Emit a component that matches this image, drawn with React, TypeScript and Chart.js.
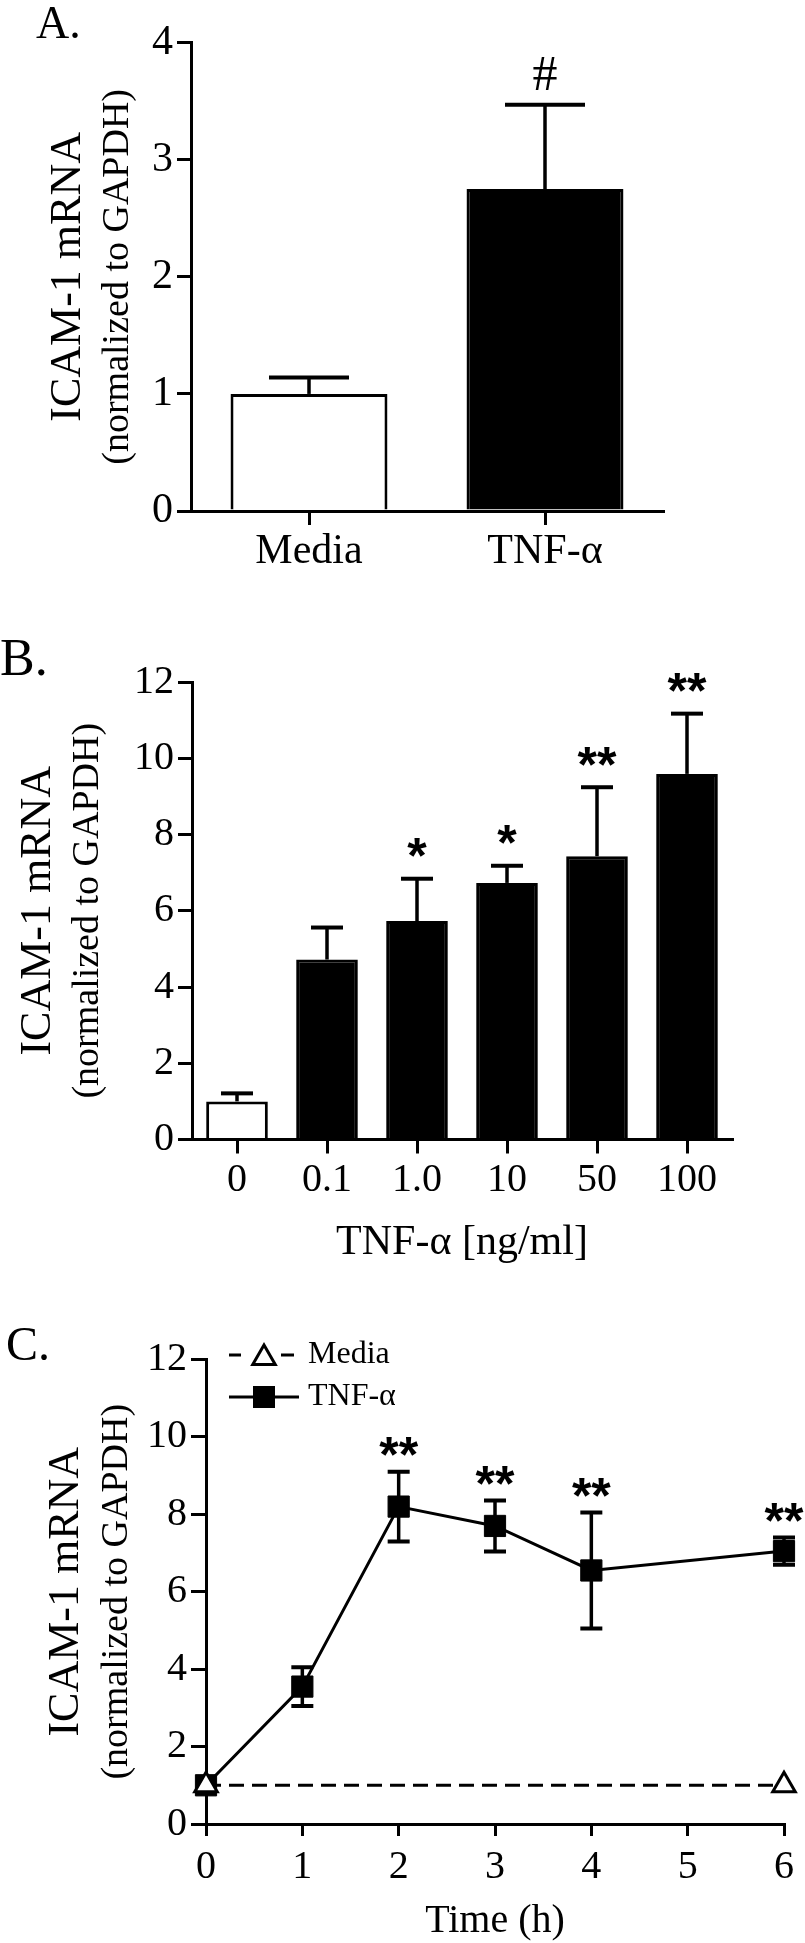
import React, { useEffect, useRef } from 'react';
import { Chart, registerables } from 'chart.js';

Chart.register(...registerables);

// ---------------- data ----------------
const aCategories = ['Media', 'TNF-α'];
const aValues = [1.0, 2.75];
const aErrors = [0.14, 0.72];
const aMarks = ['', '#'];
const aYTicks = [0, 1, 2, 3, 4];

const bCategories = ['0', '0.1', '1.0', '10', '50', '100'];
const bValues = [1.0, 4.72, 5.73, 6.73, 7.43, 9.59];
const bErrors = [0.21, 0.84, 1.11, 0.45, 1.81, 1.58];
const bMarks = ['', '', '*', '*', '**', '**'];
const bYTicks = [0, 2, 4, 6, 8, 10, 12];

const cTimes = [0, 1, 2, 3, 4, 6];
const cTnfValues = [1.0, 3.55, 8.2, 7.7, 6.55, 7.05];
const cTnfErrors = [0, 0.5, 0.9, 0.66, 1.5, 0.35];
const cMarks = ['', '', '**', '**', '**', '**'];
const cMediaTimes = [0, 6];
const cMediaValues = [1.0, 1.0];
const cXTicks = [0, 1, 2, 3, 4, 5, 6];
const cYTicks = [0, 2, 4, 6, 8, 10, 12];

const yTitleLines = ['ICAM-1 mRNA', '(normalized to GAPDH)'];
const bXTitle = 'TNF-α [ng/ml]';
const cXTitle = 'Time (h)';
const cLegendLabels = ['Media', 'TNF-α'];

// ---------------- styling helpers ----------------
const SERIF = "'Liberation Serif', 'Times New Roman', serif";
const SANS = "'Liberation Sans', Arial, sans-serif";

function axisStyle(tickLength: number, padding: number, size = 40) {
  return {
    border: { display: true, color: '#000', width: 3 },
    grid: {
      display: true,
      drawOnChartArea: false,
      drawTicks: true,
      tickLength,
      color: '#000',
      lineWidth: 3,
      offset: false,
    },
    ticks: {
      color: '#000',
      font: { family: SERIF, size },
      padding,
      maxRotation: 0,
      autoSkip: false,
    },
  };
}

function textPlugin(cfg: any) {
  return {
    id: 'panelText',
    afterDraw(chart: any) {
      const { ctx, chartArea } = chart;
      ctx.save();
      ctx.fillStyle = '#000';
      ctx.textBaseline = 'alphabetic';
      ctx.textAlign = 'left';
      ctx.font = `${cfg.labelSize}px ${SERIF}`;
      ctx.fillText(cfg.label, cfg.labelX, cfg.labelY);
      const cy = (chartArea.top + chartArea.bottom) / 2;
      yTitleLines.forEach((line: string, i: number) => {
        ctx.save();
        ctx.translate(cfg.yX[i], cy);
        ctx.rotate(-Math.PI / 2);
        ctx.textAlign = 'center';
        ctx.font = `${cfg.ySizes[i]}px ${SERIF}`;
        ctx.fillText(line, 0, 0);
        ctx.restore();
      });
      if (cfg.xTitle) {
        ctx.textAlign = 'center';
        ctx.font = `${cfg.xTitleSize}px ${SERIF}`;
        ctx.fillText(cfg.xTitle, (chartArea.left + chartArea.right) / 2, cfg.xTitleY);
      }
      ctx.restore();
    },
  };
}

function errorBarPlugin(o: any) {
  const draw = (chart: any) => {
    const { ctx } = chart;
    const meta = chart.getDatasetMeta(o.dataset);
    const ys = chart.scales.y;
    ctx.save();
    ctx.strokeStyle = '#000';
    meta.data.forEach((el: any, i: number) => {
      const e = o.errors[i];
      if (!e) return;
      const x = el.x;
      const yHi = ys.getPixelForValue(o.values[i] + e);
      const yLo = ys.getPixelForValue(o.both ? o.values[i] - e : o.values[i]);
      ctx.lineWidth = 3.5;
      ctx.beginPath();
      ctx.moveTo(x, yLo);
      ctx.lineTo(x, yHi);
      ctx.stroke();
      ctx.lineWidth = 4;
      ctx.beginPath();
      ctx.moveTo(x - o.capHalf, yHi);
      ctx.lineTo(x + o.capHalf, yHi);
      if (o.both) {
        ctx.moveTo(x - o.capHalf, yLo);
        ctx.lineTo(x + o.capHalf, yLo);
      }
      ctx.stroke();
    });
    ctx.restore();
  };
  return o.before
    ? { id: 'errorBars', beforeDatasetsDraw: draw }
    : { id: 'errorBars', afterDatasetsDraw: draw };
}

function marksPlugin(o: any) {
  return {
    id: 'sigMarks',
    afterDatasetsDraw(chart: any) {
      const { ctx } = chart;
      const meta = chart.getDatasetMeta(o.dataset);
      const ys = chart.scales.y;
      ctx.save();
      ctx.fillStyle = '#000';
      ctx.textAlign = 'center';
      ctx.textBaseline = 'alphabetic';
      ctx.font = o.font;
      meta.data.forEach((el: any, i: number) => {
        const t = o.marks[i];
        if (!t) return;
        const top = ys.getPixelForValue(o.values[i] + o.errors[i]);
        const m = ctx.measureText(t);
        const center = top - o.offset;
        const base = center + (m.actualBoundingBoxAscent - m.actualBoundingBoxDescent) / 2;
        ctx.fillText(t, el.x, base);
      });
      ctx.restore();
    },
  };
}

function drawTriangle(ctx: any, x: number, y: number, r: number) {
  ctx.beginPath();
  for (let k = 0; k < 3; k++) {
    const a = (k * 2 * Math.PI) / 3;
    const px = x + Math.sin(a) * r;
    const py = y - Math.cos(a) * r;
    if (k === 0) ctx.moveTo(px, py);
    else ctx.lineTo(px, py);
  }
  ctx.closePath();
  ctx.fillStyle = '#fff';
  ctx.fill();
  ctx.lineWidth = 3;
  ctx.strokeStyle = '#000';
  ctx.stroke();
}

const legendPlugin = {
  id: 'cLegend',
  afterDraw(chart: any) {
    const { ctx, chartArea } = chart;
    const x0 = chartArea.left + 23;
    const x1 = chartArea.left + 93;
    const mx = chartArea.left + 58;
    const rows = [chartArea.top - 4.5, chartArea.top + 37.5];
    ctx.save();
    ctx.strokeStyle = '#000';
    ctx.lineWidth = 3;
    // Media row
    let y = rows[0];
    ctx.beginPath();
    ctx.moveTo(x0, y);
    ctx.lineTo(x0 + 12, y);
    ctx.moveTo(mx + 17, y);
    ctx.lineTo(mx + 30, y);
    ctx.stroke();
    drawTriangle(ctx, mx, y + 3, 13);
    // TNF row
    y = rows[1];
    ctx.beginPath();
    ctx.moveTo(x0, y);
    ctx.lineTo(x1, y);
    ctx.stroke();
    ctx.fillStyle = '#000';
    ctx.fillRect(mx - 11, y - 11, 22, 22);
    ctx.font = `32px ${SERIF}`;
    ctx.textAlign = 'left';
    ctx.textBaseline = 'middle';
    ctx.fillStyle = '#000';
    ctx.fillText(cLegendLabels[0], x1 + 9, rows[0]);
    ctx.fillText(cLegendLabels[1], x1 + 9, rows[1]);
    ctx.restore();
  },
};

const fixedTicks = (vals: number[]) => (s: any) => {
  s.ticks = vals.map((v) => ({ value: v }));
};

// ---------------- chart configs ----------------
function makeA(): any {
  const xs = axisStyle(14, 2, 42);
  const ys = axisStyle(14, 4, 42);
  return {
    type: 'bar',
    data: {
      labels: aCategories,
      datasets: [
        {
          data: aValues,
          backgroundColor: ['#fff', '#000'],
          borderColor: '#000',
          borderWidth: 3,
          barPercentage: 0.665,
          categoryPercentage: 1,
        },
      ],
    },
    options: {
      animation: false,
      responsive: false,
      devicePixelRatio: 1,
      layout: { padding: { left: 91, right: 142, top: 42.7, bottom: 9 } },
      plugins: { legend: { display: false }, tooltip: { enabled: false } },
      scales: {
        x: { ...xs, afterFit: (s: any) => { s.height = 80; } },
        y: {
          ...ys,
          min: 0,
          max: 4,
          afterBuildTicks: fixedTicks(aYTicks),
          afterFit: (s: any) => { s.width = 100; },
        },
      },
    },
    plugins: [
      errorBarPlugin({ dataset: 0, values: aValues, errors: aErrors, capHalf: 40 }),
      marksPlugin({ dataset: 0, values: aValues, errors: aErrors, marks: aMarks, font: `50px ${SERIF}`, offset: 31 }),
      textPlugin({ label: 'A.', labelX: 36, labelY: 38, labelSize: 46, yX: [80, 128], ySizes: [44, 38] }),
    ],
  };
}

function makeB(): any {
  const xs = axisStyle(14, 3);
  const ys = axisStyle(14, 4);
  return {
    type: 'bar',
    data: {
      labels: bCategories,
      datasets: [
        {
          data: bValues,
          backgroundColor: bValues.map((_, i) => (i === 0 ? '#fff' : '#000')),
          borderColor: '#000',
          borderWidth: 3,
          barPercentage: 0.685,
          categoryPercentage: 1,
        },
      ],
    },
    options: {
      animation: false,
      responsive: false,
      devicePixelRatio: 1,
      layout: { padding: { left: 92, right: 73, top: 82, bottom: 50.5 } },
      plugins: { legend: { display: false }, tooltip: { enabled: false } },
      scales: {
        x: { ...xs, afterFit: (s: any) => { s.height = 80; } },
        y: {
          ...ys,
          min: 0,
          max: 12,
          afterBuildTicks: fixedTicks(bYTicks),
          afterFit: (s: any) => { s.width = 100; },
        },
      },
    },
    plugins: [
      errorBarPlugin({ dataset: 0, values: bValues, errors: bErrors, capHalf: 16 }),
      marksPlugin({ dataset: 0, values: bValues, errors: bErrors, marks: bMarks, font: `bold 50px ${SANS}`, offset: 31 }),
      textPlugin({
        label: 'B.', labelX: 0, labelY: 75, labelSize: 52,
        yX: [50, 98], ySizes: [44, 38],
        xTitle: bXTitle, xTitleY: 654, xTitleSize: 42,
      }),
    ],
  };
}

function makeC(): any {
  const xs = axisStyle(12, 7.5);
  const ys = axisStyle(15, 4);
  return {
    type: 'line',
    data: {
      datasets: [
        {
          label: cLegendLabels[0],
          data: cMediaTimes.map((t, i) => ({ x: t, y: cMediaValues[i] })),
          borderColor: '#000',
          borderWidth: 3,
          borderDash: [15, 8],
          pointStyle: 'triangle',
          pointRadius: 13,
          pointBackgroundColor: '#fff',
          pointBorderColor: '#000',
          pointBorderWidth: 3,
          fill: false,
          tension: 0,
          clip: false,
        },
        {
          label: cLegendLabels[1],
          data: cTimes.map((t, i) => ({ x: t, y: cTnfValues[i] })),
          borderColor: '#000',
          borderWidth: 3,
          pointStyle: 'rect',
          pointRadius: 15,
          pointBackgroundColor: '#000',
          pointBorderColor: '#000',
          pointBorderWidth: 1,
          fill: false,
          tension: 0,
          clip: false,
        },
      ],
    },
    options: {
      animation: false,
      responsive: false,
      devicePixelRatio: 1,
      layout: { padding: { left: 106, right: 21, top: 89.5, bottom: 39 } },
      plugins: { legend: { display: false }, tooltip: { enabled: false } },
      scales: {
        x: {
          ...xs,
          type: 'linear',
          min: 0,
          max: 6,
          afterBuildTicks: fixedTicks(cXTicks),
          afterFit: (s: any) => { s.height = 80; },
        },
        y: {
          ...ys,
          min: 0,
          max: 12,
          afterBuildTicks: fixedTicks(cYTicks),
          afterFit: (s: any) => { s.width = 100; },
        },
      },
    },
    plugins: [
      errorBarPlugin({ dataset: 1, values: cTnfValues, errors: cTnfErrors, capHalf: 11, both: true, before: true }),
      marksPlugin({ dataset: 1, values: cTnfValues, errors: cTnfErrors, marks: cMarks, font: `bold 50px ${SANS}`, offset: 25 }),
      legendPlugin,
      textPlugin({
        label: 'C.', labelX: 6, labelY: 90, labelSize: 48,
        yX: [78, 127], ySizes: [44, 38],
        xTitle: cXTitle, xTitleY: 662, xTitleSize: 40,
      }),
    ],
  };
}

function ChartCanvas({ top, height, make }: { top: number; height: number; make: () => any }) {
  const ref = useRef<HTMLCanvasElement>(null);
  useEffect(() => {
    const chart = new Chart(ref.current as HTMLCanvasElement, make());
    return () => chart.destroy();
  }, []);
  return (
    <canvas
      ref={ref}
      width={805}
      height={height}
      style={{ position: 'absolute', left: 0, top, width: 805, height, display: 'block' }}
    />
  );
}

export default function App() {
  return (
    <div style={{ position: 'absolute', left: 0, top: 0, width: 805, height: 1943, background: '#fff', overflow: 'hidden' }}>
      <ChartCanvas top={0} height={600} make={makeA} />
      <ChartCanvas top={600} height={670} make={makeB} />
      <ChartCanvas top={1270} height={673} make={makeC} />
    </div>
  );
}
